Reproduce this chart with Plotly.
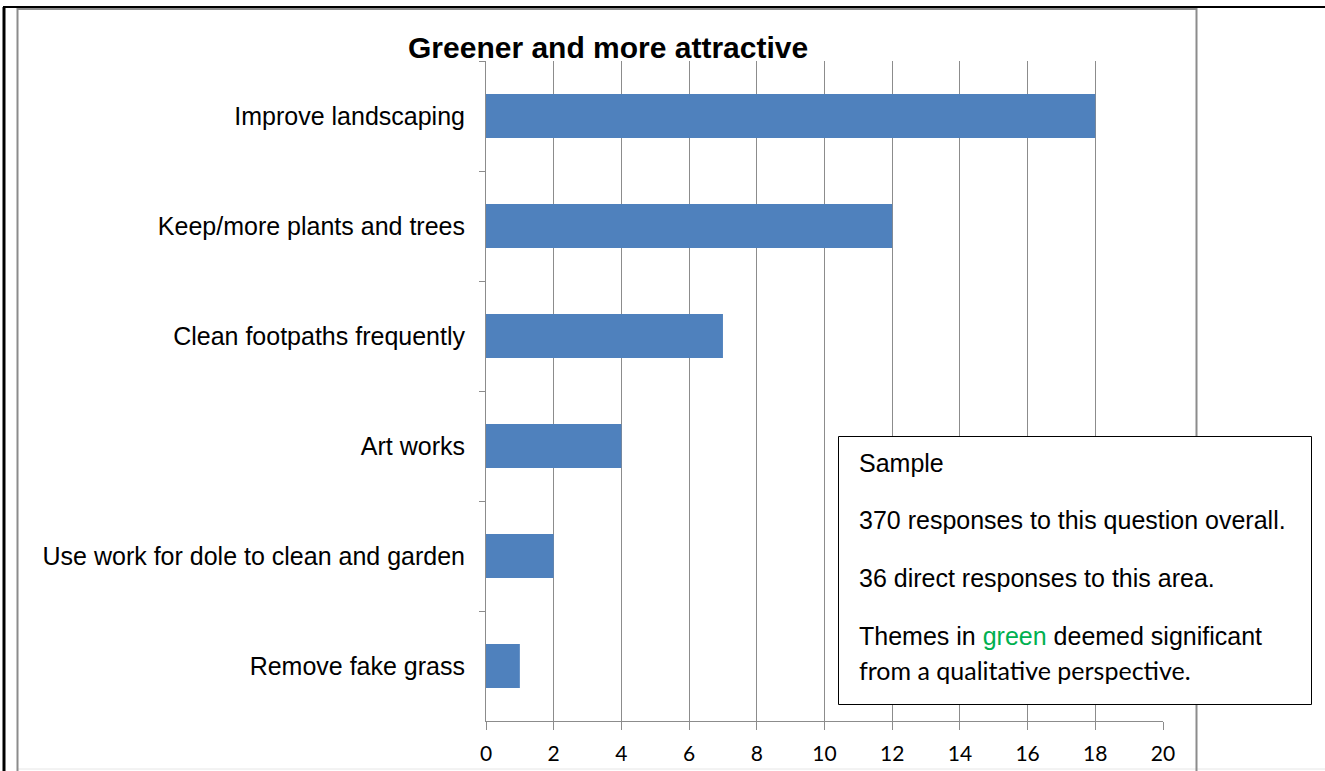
import plotly.graph_objects as go

categories = [
    "Improve landscaping",
    "Keep/more plants and trees",
    "Clean footpaths frequently",
    "Art works",
    "Use work for dole to clean and garden",
    "Remove fake grass",
]
values = [18, 12, 7, 4, 2, 1]
x_ticks = [0, 2, 4, 6, 8, 10, 12, 14, 16, 18, 20]

W, H = 1325, 771
L, R, T, B = 486, 1163, 61, 721


def px(x):
    return (x - L) / (R - L)


def py(y):
    return (B - y) / (B - T)


fig = go.Figure(
    go.Bar(
        y=categories,
        x=values,
        orientation="h",
        marker=dict(color="#4F81BD", line=dict(width=0)),
        hoverinfo="x+y",
    )
)

fig.update_layout(
    width=W,
    height=H,
    margin=dict(l=L, r=W - R, t=T, b=H - B, pad=0, autoexpand=False),
    paper_bgcolor="white",
    plot_bgcolor="white",
    bargap=0.6,
    showlegend=False,
    font=dict(family="Liberation Sans, Arial", size=25, color="black"),
)

fig.update_xaxes(
    range=[0, 20],
    tickvals=x_ticks,
    ticktext=[str(v) for v in x_ticks],
    showgrid=True,
    gridcolor="#8c8c8c",
    gridwidth=1,
    showline=True,
    linecolor="#8c8c8c",
    linewidth=1,
    ticks="outside",
    ticklen=8,
    tickcolor="#8c8c8c",
    tickfont=dict(family="Lato, Liberation Sans", size=21, color="black"),
    ticklabelstandoff=6,
    zeroline=False,
    fixedrange=True,
    automargin=False,
)

fig.update_yaxes(
    type="category",
    categoryorder="array",
    categoryarray=categories,
    autorange="reversed",
    showgrid=False,
    showline=True,
    linecolor="#8c8c8c",
    linewidth=1,
    ticks="outside",
    tickson="boundaries",
    ticklen=6,
    tickcolor="#8c8c8c",
    tickfont=dict(family="Liberation Sans, Arial", size=25, color="black"),
    ticklabelstandoff=15,
    zeroline=False,
    fixedrange=True,
    automargin=False,
)

shapes = []
# outer black lines
shapes.append(dict(type="line", xref="paper", yref="paper",
                   x0=px(3), x1=px(1325), y0=py(7), y1=py(7),
                   line=dict(color="black", width=2), layer="above"))
shapes.append(dict(type="line", xref="paper", yref="paper",
                   x0=px(4), x1=px(4), y0=py(7), y1=py(775),
                   line=dict(color="black", width=3), layer="above"))
# gray chart frame
shapes.append(dict(type="rect", xref="paper", yref="paper",
                   x0=px(17.5), x1=px(1196.5), y0=py(9), y1=py(790),
                   line=dict(color="#8c8c8c", width=2), layer="above"))
# faint bottom line
shapes.append(dict(type="line", xref="paper", yref="paper",
                   x0=px(18), x1=px(1325), y0=py(769), y1=py(769),
                   line=dict(color="#e6e6e6", width=1), layer="below"))
# text box
shapes.append(dict(type="rect", xref="paper", yref="paper",
                   x0=px(838.5), x1=px(1311.5), y0=py(436.5), y1=py(704.5),
                   line=dict(color="black", width=1), fillcolor="white", layer="above"))
fig.update_layout(shapes=shapes)

annotations = [
    dict(text="<b>Greener and more attractive</b>", x=px(608), y=py(48), xanchor="center",
         font=dict(family="Liberation Sans, Arial", size=30, color="black")),
    dict(text="Sample", x=px(857), y=py(463), xanchor="left"),
    dict(text="370 responses to this question overall.", x=px(857), y=py(520), xanchor="left"),
    dict(text="36 direct responses to this area.", x=px(857), y=py(578), xanchor="left"),
    dict(text="Themes in <span style='color:#00B050'>green</span> deemed significant",
         x=px(857), y=py(636), xanchor="left"),
    dict(text="from a qualitative perspective.", x=px(857), y=py(670), xanchor="left",
         font=dict(family="Lato, Liberation Sans", size=25, color="black")),
]
for a in annotations:
    a.setdefault("xref", "paper")
    a.setdefault("yref", "paper")
    a.setdefault("showarrow", False)
    a.setdefault("yanchor", "middle")
    a.setdefault("font", dict(family="Liberation Sans, Arial", size=25, color="black"))
fig.update_layout(annotations=annotations)

fig.write_html(
    "out.html",
    config={"displayModeBar": False},
    post_script="document.body.style.margin='0';document.body.style.overflow='hidden';",
)
